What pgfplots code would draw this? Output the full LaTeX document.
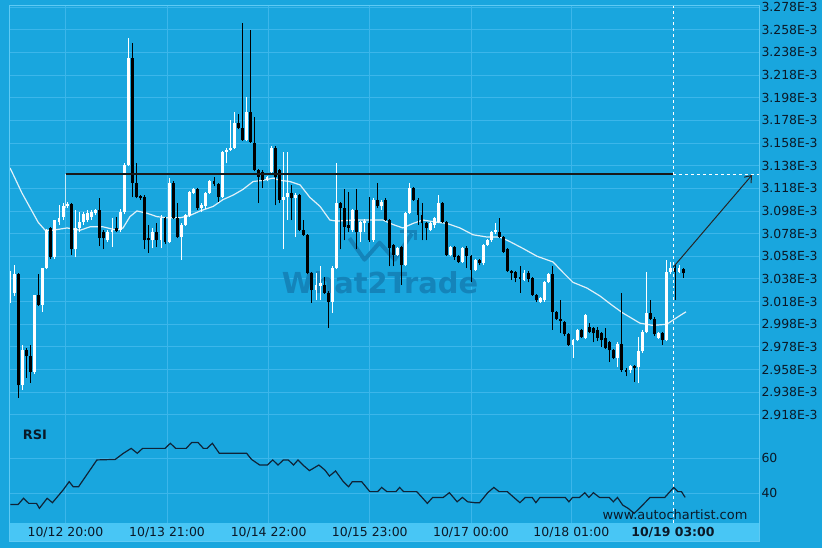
\documentclass[border=0pt]{standalone}
\usepackage{pgfplots}
\pgfplotsset{compat=1.18}
\usepackage{pgfplotstable}
\usepackage{fontspec}
\setmainfont{DejaVu Sans}
\usetikzlibrary{arrows.meta}
\definecolor{bg}{RGB}{25,166,222}
\definecolor{gridc}{RGB}{60,182,234}
\definecolor{framec}{RGB}{95,202,244}
\definecolor{band}{RGB}{72,198,245}
\definecolor{txt}{RGB}{10,25,40}
\definecolor{wm}{RGB}{20,132,186}
\definecolor{ma}{RGB}{225,240,248}
\definecolor{rsic}{RGB}{15,35,55}

\pgfplotstableread{
n o h l c
0 3.029 3.045 3.017 3.031
1 3.026 3.050 3.023 3.042
3 2.944 2.980 2.940 2.975
6 2.956 3.024 2.954 3.024
8 3.015 3.048 3.009 3.048
9 3.048 3.082 3.047 3.081
11 3.057 3.090 3.056 3.090
12 3.088 3.103 3.086 3.092
13 3.093 3.105 3.090 3.102
14 3.102 3.106 3.101 3.104
16 3.064 3.099 3.057 3.083
17 3.083 3.097 3.079 3.088
18 3.088 3.097 3.086 3.095
19 3.090 3.099 3.088 3.096
20 3.093 3.099 3.090 3.097
21 3.096 3.100 3.094 3.099
24 3.072 3.081 3.071 3.079
25 3.079 3.092 3.066 3.081
27 3.081 3.100 3.079 3.097
28 3.097 3.140 3.095 3.139
29 3.139 3.251 3.138 3.233
35 3.072 3.083 3.065 3.079
37 3.072 3.094 3.065 3.092
39 3.071 3.127 3.070 3.123
42 3.075 3.087 3.055 3.086
43 3.086 3.095 3.085 3.094
44 3.094 3.116 3.093 3.115
45 3.114 3.118 3.113 3.117
47 3.101 3.105 3.097 3.103
48 3.102 3.115 3.100 3.114
49 3.114 3.125 3.113 3.124
52 3.110 3.151 3.109 3.150
53 3.150 3.154 3.140 3.152
54 3.152 3.178 3.151 3.154
55 3.154 3.185 3.153 3.176
58 3.161 3.199 3.160 3.185
63 3.125 3.129 3.124 3.128
64 3.132 3.155 3.131 3.154
67 3.108 3.150 3.064 3.110
68 3.110 3.150 3.090 3.114
70 3.109 3.114 3.075 3.112
75 3.028 3.043 3.019 3.033
76 3.032 3.049 3.019 3.034
79 3.018 3.049 3.008 3.048
80 3.048 3.140 3.047 3.105
84 3.081 3.100 3.079 3.099
86 3.079 3.089 3.071 3.088
87 3.087 3.091 3.079 3.089
89 3.072 3.109 3.071 3.108
91 3.102 3.108 3.099 3.106
95 3.059 3.066 3.058 3.065
97 3.050 3.097 3.049 3.096
98 3.096 3.123 3.095 3.118
103 3.081 3.088 3.080 3.087
104 3.086 3.093 3.083 3.092
105 3.088 3.112 3.087 3.105
108 3.059 3.067 3.058 3.066
111 3.053 3.066 3.052 3.065
114 3.046 3.056 3.045 3.055
116 3.052 3.069 3.050 3.068
117 3.068 3.073 3.067 3.072
118 3.072 3.080 3.071 3.079
119 3.079 3.087 3.078 3.081
126 3.037 3.046 3.036 3.043
130 3.018 3.022 3.017 3.021
131 3.019 3.036 3.018 3.035
132 3.035 3.043 3.034 3.042
138 2.980 2.985 2.968 2.984
139 2.984 2.994 2.983 2.993
141 2.986 3.007 2.985 3.006
149 2.968 2.982 2.960 2.981
152 2.958 2.962 2.955 2.961
154 2.960 2.987 2.946 2.974
155 2.974 2.993 2.973 2.991
156 2.991 3.044 2.990 3.008
159 2.986 2.991 2.985 2.990
161 2.984 3.055 2.983 3.044
162 3.044 3.053 3.042 3.048
164 3.044 3.050 3.043 3.048
}\upc

\pgfplotstableread{
n o h l c
2 3.042 3.043 2.933 2.944
4 2.975 2.977 2.951 2.970
5 2.970 2.980 2.946 2.956
7 3.024 3.042 3.014 3.015
10 3.083 3.084 3.056 3.057
15 3.104 3.105 3.059 3.064
22 3.099 3.109 3.067 3.074
23 3.079 3.081 3.064 3.074
26 3.083 3.093 3.079 3.080
30 3.233 3.246 3.110 3.123
31 3.123 3.140 3.109 3.110
32 3.111 3.112 3.108 3.109
33 3.110 3.112 3.064 3.072
34 3.074 3.086 3.061 3.072
36 3.079 3.087 3.066 3.072
38 3.092 3.093 3.069 3.071
40 3.123 3.124 3.091 3.092
41 3.092 3.105 3.074 3.075
46 3.117 3.118 3.099 3.101
50 3.124 3.128 3.120 3.122
51 3.122 3.123 3.106 3.110
56 3.176 3.184 3.170 3.171
57 3.171 3.264 3.160 3.161
59 3.185 3.258 3.158 3.159
60 3.158 3.181 3.133 3.134
61 3.134 3.135 3.105 3.128
62 3.132 3.134 3.118 3.125
65 3.154 3.155 3.103 3.128
66 3.134 3.135 3.105 3.108
69 3.114 3.121 3.090 3.109
71 3.112 3.113 3.080 3.081
72 3.081 3.090 3.076 3.077
73 3.077 3.078 3.042 3.043
74 3.043 3.044 3.017 3.028
77 3.033 3.040 3.025 3.026
78 3.026 3.027 2.995 3.018
81 3.105 3.106 3.064 3.101
82 3.101 3.117 3.072 3.084
83 3.086 3.115 3.079 3.083
85 3.099 3.117 3.064 3.079
88 3.087 3.110 3.071 3.072
90 3.108 3.123 3.101 3.102
92 3.108 3.109 3.089 3.090
93 3.090 3.091 3.049 3.065
94 3.068 3.069 3.049 3.059
96 3.066 3.067 3.033 3.050
99 3.118 3.119 3.107 3.108
100 3.108 3.109 3.086 3.094
101 3.094 3.105 3.072 3.087
102 3.087 3.088 3.072 3.083
106 3.105 3.106 3.087 3.088
107 3.088 3.089 3.058 3.059
109 3.066 3.067 3.055 3.057
110 3.058 3.059 3.052 3.053
112 3.065 3.067 3.048 3.058
113 3.058 3.059 3.035 3.046
115 3.055 3.056 3.050 3.052
120 3.079 3.092 3.074 3.075
121 3.075 3.076 3.061 3.062
122 3.064 3.065 3.044 3.045
123 3.045 3.046 3.037 3.043
124 3.044 3.045 3.035 3.039
125 3.040 3.049 3.026 3.038
127 3.043 3.045 3.035 3.038
128 3.039 3.040 3.023 3.024
129 3.024 3.025 3.018 3.019
133 3.042 3.049 2.993 3.009
134 3.009 3.010 3.002 3.003
135 3.003 3.019 2.990 3.001
136 3.000 3.001 2.988 2.989
137 2.989 2.990 2.979 2.980
140 2.993 2.994 2.986 2.987
142 2.996 2.999 2.990 2.991
143 2.995 2.996 2.982 2.990
144 2.993 2.996 2.983 2.986
145 2.990 2.991 2.978 2.984
146 2.986 2.995 2.976 2.977
147 2.982 2.983 2.965 2.975
148 2.975 2.976 2.967 2.968
150 2.981 3.026 2.956 2.958
151 2.958 2.959 2.952 2.956
153 2.961 2.962 2.947 2.959
157 3.008 3.019 3.002 3.003
158 3.003 3.004 2.988 2.989
160 2.990 2.991 2.980 2.984
163 3.048 3.051 3.019 3.044
165 3.047 3.048 3.039 3.043
}\downc

\pgfplotsset{candle/.style={draw=none, mark=none, forget plot, error bars/.cd, y dir=plus, y explicit, error mark=none}}

\begin{document}
\begin{tikzpicture}
\fill[bg] (0bp,0bp) rectangle (822bp,548bp);
\useasboundingbox (0bp,0bp) rectangle (822bp,548bp);
\fill[band] (9bp,6bp) rectangle (759bp,25bp);

% ---------------- price panel ----------------
\begin{axis}[at={(9bp,128bp)}, anchor=south west, scale only axis,
  width=750bp, height=414bp,
  xmin=-0.25, xmax=183.6, ymin=2.9135, ymax=3.2789,
  axis line style={draw=none}, major tick length=0pt,
  xtick={13.6,38.5,63.4,88.2,113,137.6}, xticklabels={},
  ytick={2.918,2.938,2.958,2.978,2.998,3.018,3.038,3.058,3.078,3.098,3.118,3.138,3.158,3.178,3.198,3.218,3.238,3.258,3.278},
  yticklabels={2.918E-3,2.938E-3,2.958E-3,2.978E-3,2.998E-3,3.018E-3,3.038E-3,3.058E-3,3.078E-3,3.098E-3,3.118E-3,3.138E-3,3.158E-3,3.178E-3,3.198E-3,3.218E-3,3.238E-3,3.258E-3,3.278E-3},
  yticklabel pos=right,
  yticklabel style={font=\fontsize{12.5}{14}\selectfont, text=txt, anchor=west, xshift=-1bp},
  grid=major, major grid style={draw=gridc, line width=0.9bp},
  clip=false]
\node[font=\bfseries\fontsize{29}{30}\selectfont, text=wm] at (axis cs:90.7,3.0345) {What2Trade};
\draw[wm, line width=4bp, line join=round] (axis cs:83.2,3.074) -- (axis cs:86.9,3.055) -- (axis cs:90.6,3.070) -- (axis cs:94.3,3.055) -- (axis cs:98.5,3.078);
\draw[wm, line width=3bp] (axis cs:95.5,3.080) -- (axis cs:99.5,3.080) -- (axis cs:99.5,3.072);
% moving average
\addplot[ma, line width=1.2bp, forget plot] coordinates {
(0,3.136) (1.2,3.127) (2.9,3.114) (4.9,3.101) (6.9,3.088) (8.6,3.081) (10.5,3.081) (14,3.083) (17.2,3.081) (19.6,3.084) (22.8,3.084) (26.2,3.081) (27.7,3.083) (29.4,3.093) (31.1,3.098) (33.6,3.096) (36,3.093) (38.5,3.092) (41.7,3.092) (44.1,3.094) (46.6,3.098) (49.8,3.102) (52.2,3.108) (54.7,3.112) (57.1,3.117) (59.6,3.124) (62,3.125) (64.5,3.127) (66.2,3.125) (68.6,3.124) (71.1,3.121) (73.5,3.110) (76,3.102) (78.4,3.090) (80.1,3.089) (84.1,3.090) (88.2,3.090) (91.4,3.090) (93.9,3.086) (96.3,3.083) (98.8,3.087) (101.2,3.090) (104.7,3.088) (107.1,3.087) (110.3,3.083) (113.5,3.077) (116.9,3.075) (120.1,3.075) (122.5,3.071) (125.7,3.065) (129.2,3.058) (133.1,3.053) (135.5,3.044) (138,3.035) (141.4,3.030) (144.6,3.023) (147.5,3.015) (150.2,3.008) (154.4,2.999) (157.6,2.997) (161,2.998) (163.5,3.004) (165.7,3.009)};
% up candles: wicks and bodies
\addplot[candle, error bar style={draw=white, line width=0.9bp}]
  table[x=n, y=l, y error plus expr={\thisrow{h}-\thisrow{l}}] {\upc};
\addplot[candle, error bar style={draw=white, line width=2.9bp}]
  table[x=n, y=o, y error plus expr={\thisrow{c}-\thisrow{o}}] {\upc};
% down candles
\addplot[candle, error bar style={draw=black, line width=0.9bp}]
  table[x=n, y=l, y error plus expr={\thisrow{h}-\thisrow{l}}] {\downc};
\addplot[candle, error bar style={draw=black, line width=2.9bp}]
  table[x=n, y=c, y error plus expr={\thisrow{o}-\thisrow{c}}] {\downc};
% resistance line
\addplot[white!75!bg, line width=0.8bp] coordinates {(13.6,3.1307) (13.6,3.101)};
\addplot[black!90, line width=2bp] coordinates {(13.6,3.1307) (162.5,3.1307)};
\addplot[white, dashed, line width=0.7bp] coordinates {(162.5,3.1307) (183.6,3.1307)};
\addplot[white, dashed, line width=0.7bp] coordinates {(162.5,2.9135) (162.5,3.2789)};
\addplot[black!85, line width=1bp, -{Straight Barb[length=6bp,width=9bp]}] coordinates {(162.6,3.0485) (181.9,3.1298)};
\end{axis}

% ---------------- RSI panel ----------------
\begin{axis}[at={(9bp,25bp)}, anchor=south west, scale only axis,
  width=750bp, height=103bp,
  xmin=-0.25, xmax=183.6, ymin=22.9, ymax=81.7,
  axis line style={draw=none}, major tick length=0pt,
  xtick={13.6,38.5,63.4,88.2,113,137.6},
  xticklabels={10/12 20:00,10/13 21:00,10/14 22:00,10/15 23:00,10/17 00:00,10/18 01:00},
  extra x ticks={162.5}, extra x tick labels={\bfseries 10/19 03:00},
  extra x tick style={grid=none},
  xticklabel style={font=\fontsize{12.5}{14}\selectfont, text=txt, anchor=center, yshift=-9.5bp},
  ytick={40,60}, yticklabel pos=right,
  yticklabel style={font=\fontsize{12.5}{14}\selectfont, text=txt, anchor=west, xshift=-1bp, /pgf/number format/assume math mode=true},
  grid=major, major grid style={draw=gridc, line width=0.9bp},
  clip=false]
\addplot[white, dashed, line width=0.7bp] coordinates {(162.5,22.9) (162.5,81.7)};
\addplot[rsic, line width=1.2bp] coordinates {
(0.1,33.5) (2.0,33.5) (3.3,37.0) (4.6,34.1) (6.5,34.1) (7.2,31.3) (9.1,37.0) (10.4,34.5) (13.0,41.7) (14.5,46.5) (15.5,43.6) (16.8,43.6) (21.3,58.9) (25.8,59.2) (27.8,62.7) (29.7,65.5) (31.2,62.7) (32.5,65.5) (38.0,65.5) (39.3,68.4) (40.6,65.5) (43.2,65.5) (44.5,68.8) (46.1,68.8) (47.4,65.5) (48.3,65.5) (49.6,68.4) (51.3,62.7) (58.0,62.7) (59.2,59.2) (61.2,56.0) (63.1,56.0) (64.4,58.9) (65.7,56.0) (67.0,58.9) (68.2,58.9) (69.5,56.0) (70.6,58.9) (71.8,56.0) (73.4,52.8) (75.7,56.0) (77.2,53.1) (78.3,49.7) (79.8,52.6) (81.7,46.5) (83.0,43.6) (83.9,46.5) (86.2,46.5) (88.2,40.8) (90.1,40.8) (91.1,43.2) (92.4,40.8) (94.6,40.8) (95.5,43.2) (96.5,40.8) (99.7,40.8) (101.0,37.5) (102.3,34.1) (103.6,37.5) (106.2,37.5) (107.7,40.2) (108.7,37.5) (109.6,35.0) (110.9,37.5) (112.2,35.0) (113.9,34.5) (115.1,34.5) (117.1,40.2) (118.6,43.2) (119.9,40.8) (121.9,40.8) (123.5,37.5) (125.0,34.5) (126.3,37.5) (128.0,37.5) (128.9,34.5) (129.9,37.5) (136.1,37.5) (137.0,35.0) (137.9,37.5) (139.6,37.5) (140.9,40.2) (141.9,37.5) (143.0,40.2) (144.5,37.5) (146.9,37.5) (147.9,35.0) (148.9,37.5) (150.2,33.1) (151.5,31.3) (153.0,28.4) (154.3,31.3) (156.9,37.5) (160.5,37.5) (162.7,43.2) (163.7,40.8) (164.6,40.8) (165.5,37.5)};
\end{axis}

\draw[framec, line width=1bp] (9bp,6bp) rectangle (759bp,542bp);
\node[font=\bfseries\fontsize{13}{15}\selectfont, text=txt] at (35bp,113bp) {RSI};
\node[font=\fontsize{13}{15}\selectfont, text=txt] at (675bp,33bp) {www.autochartist.com};
\end{tikzpicture}
\end{document}
